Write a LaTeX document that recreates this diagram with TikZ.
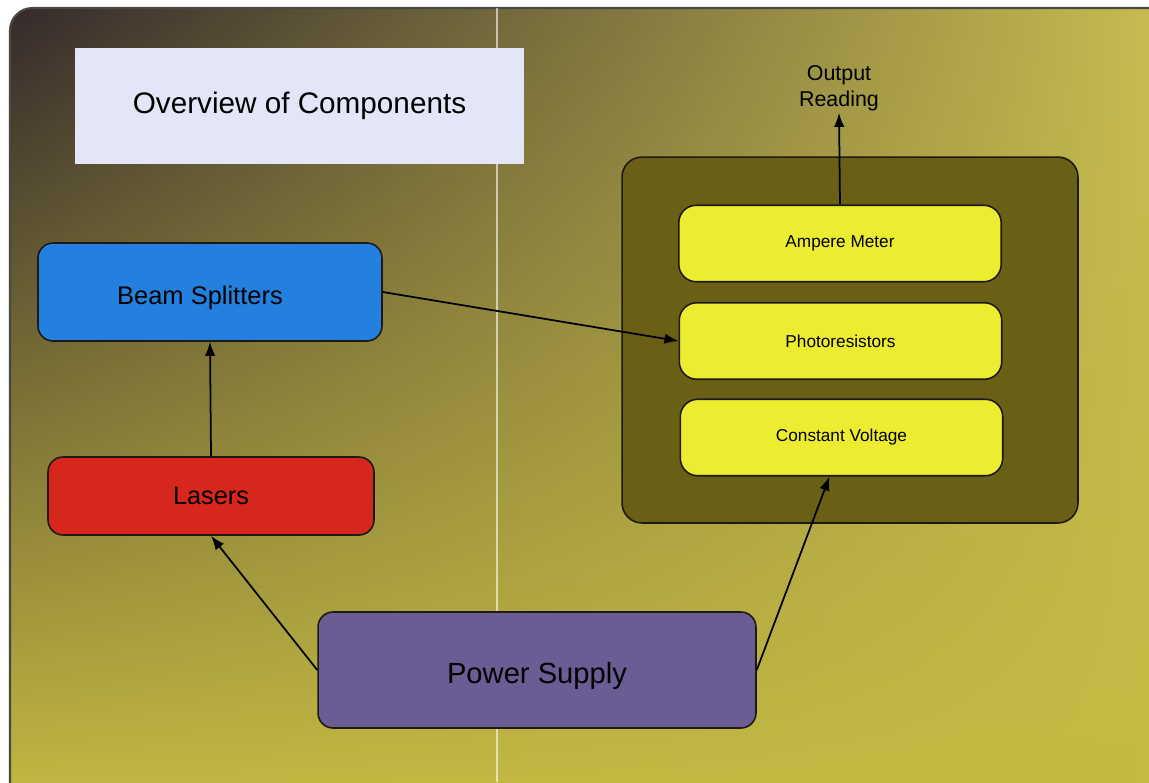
\documentclass[tikz,border=0pt]{standalone}
\usepackage{fontspec}
\setmainfont{Liberation Sans}
\usetikzlibrary{arrows.meta,shadings,fadings}
\definecolor{bgL}{RGB}{52,42,44}
\definecolor{bgM}{RGB}{128,110,58}
\definecolor{bgR}{RGB}{200,190,82}
\definecolor{bgY}{RGB}{196,186,66}
\definecolor{titlefill}{RGB}{228,230,248}
\definecolor{beamblue}{RGB}{35,128,222}
\definecolor{laserred}{RGB}{215,38,28}
\definecolor{powerpurple}{RGB}{108,92,148}
\definecolor{olivebox}{RGB}{105,96,22}
\definecolor{meteryellow}{RGB}{236,236,48}
\definecolor{edgedark}{RGB}{30,25,20}
\tikzfading[name=fadeup, top color=transparent!100, middle color=transparent!62, bottom color=transparent!0]
\tikzset{
  x=0.02cm, y=-0.02cm,
  box/.style={draw=edgedark, line width=0.9pt, rounded corners=0.3cm, inner sep=0pt, align=center},
  inbox/.style={box, fill=meteryellow, minimum width=6.45cm, minimum height=1.53cm, font=\fontsize{9.8}{12}\selectfont, rounded corners=0.35cm},
  conn/.style={draw=black, line width=1pt, -{Latex[length=8pt,width=6pt]}}
}
\begin{document}
\begin{tikzpicture}
\useasboundingbox (0,0) rectangle (1149,782);
\clip (0,0) rectangle (1149,782);
\fill[white] (0,0) rectangle (1149,782);
\shade[left color=bgL, middle color=bgM, right color=bgR, rounded corners=0.45cm]
  (10,8) rectangle (1170,800);
\fill[bgY, path fading=fadeup, rounded corners=0.45cm] (10,8) rectangle (1170,800);
\draw[edgedark!80, line width=1.2pt, rounded corners=0.45cm] (10,800) -- (10,8) -- (1170,8);
\draw[white, opacity=0.6, line width=1pt] (497,8) -- (497,782);

\node[fill=titlefill, minimum width=8.98cm, minimum height=2.32cm, inner sep=0pt,
      font=\fontsize{16.9}{20}\selectfont] (title) at (299.5,106) {Overview of Components};

\node[box, fill=olivebox, minimum width=9.12cm, minimum height=7.32cm, rounded corners=0.4cm] (panel) at (850,340) {};

\node[box, fill=beamblue, minimum width=6.88cm, minimum height=1.96cm, font=\fontsize{14.5}{17}\selectfont] (beam) at (210,292) {\raisebox{-0.12cm}[\height][\depth]{Beam Splitters}\hspace*{0.4cm}};
\node[box, fill=laserred, minimum width=6.52cm, minimum height=1.56cm, font=\fontsize{14.4}{17}\selectfont] (lasers) at (211,496) {Lasers};
\node[box, fill=powerpurple, minimum width=8.76cm, minimum height=2.32cm, font=\fontsize{16.6}{19}\selectfont] (power) at (537,670) {\raisebox{-0.12cm}[\height][\depth]{Power Supply}};

\node[inbox] (ampere) at (840,243.5) {Ampere Meter};
\node[inbox] (photo) at (840.5,341) {Photoresistors};
\node[inbox] (const) at (841.5,437.5) {Constant Voltage};

\node[align=center, inner sep=1pt, font=\fontsize{12.2}{14.8}\selectfont] (out) at (839,88) {Output\\Reading};

\draw[conn] (lasers.north) -- (beam.south);
\draw[conn] (beam.east) -- (photo.west);
\draw[conn] (power.west) -- (lasers.south);
\draw[conn] (power.east) -- ([xshift=-0.24cm]const.south);
\draw[conn] (ampere.north) -- (out.south);
\end{tikzpicture}
\end{document}
